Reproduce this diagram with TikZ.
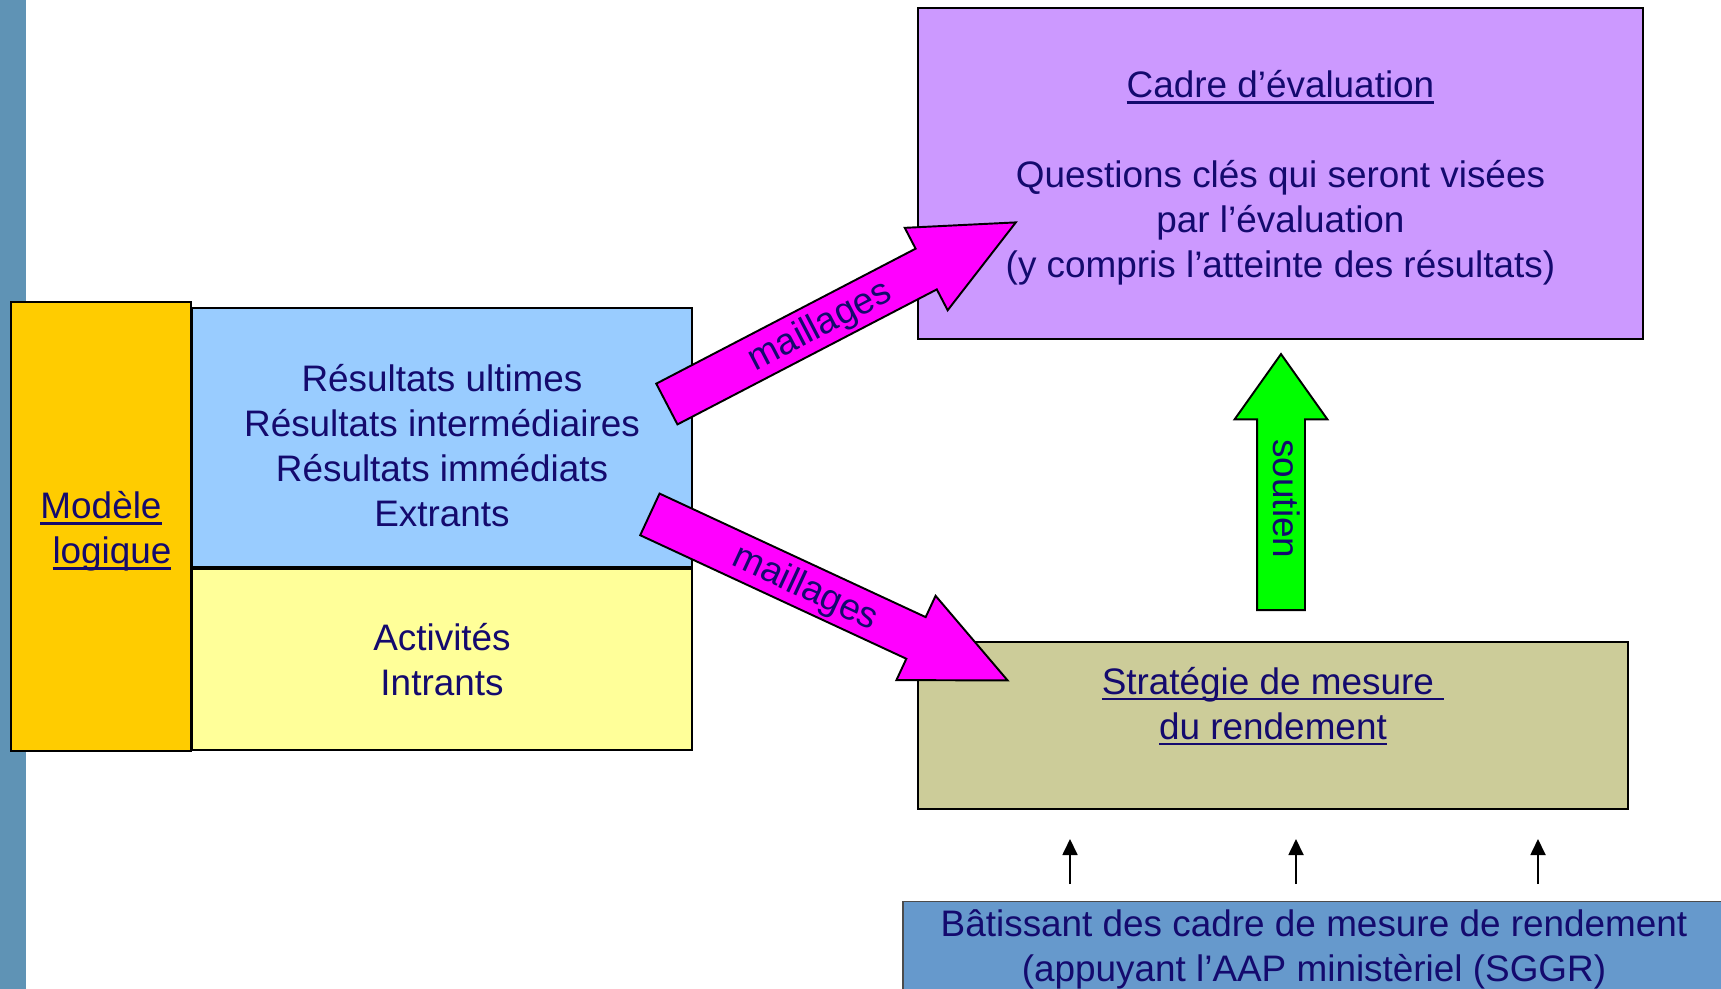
\documentclass[tikz,border=0pt]{standalone}
\usepackage{fontspec}
\setmainfont{Liberation Sans}
\usetikzlibrary{positioning,arrows.meta,shapes.arrows}
\definecolor{ink}{RGB}{20,10,110}
\definecolor{colstripe}{RGB}{95,147,181}
\definecolor{colorange}{RGB}{255,204,0}
\definecolor{colblue}{RGB}{153,204,255}
\definecolor{colyellow}{RGB}{255,255,153}
\definecolor{colpurple}{RGB}{204,153,255}
\definecolor{cololive}{RGB}{204,204,153}
\definecolor{colbat}{RGB}{102,153,204}
\definecolor{colmag}{RGB}{255,0,255}
\definecolor{colgreen}{RGB}{0,255,0}
\newcommand{\ulbox}[1]{\setbox0=\hbox{#1}\rlap{\rule[-0.17em]{\wd0}{0.075em}}\box0}

\begin{document}
\begin{tikzpicture}[x=0.02cm, y=-0.02cm,
    every node/.style={font=\fontsize{21}{25.6}\selectfont, text=ink},
    box/.style={draw=black, line width=1.1pt, inner sep=0pt, align=center},
    txt/.style={inner sep=0pt, align=center},
    bigarrow/.style={single arrow, draw=black, line width=1.1pt, inner sep=0pt, text height=0.68cm, text depth=0.2cm},
    upar/.style={-{Triangle[length=0.32cm,width=0.3cm]}, line width=1pt}]
    \useasboundingbox (0,0) rectangle (1721,989);
    \clip (0,0) rectangle (1721,989);
    \fill[colstripe] (0,0) rectangle (26,989);

    \node[box, fill=colorange, line width=1.6pt, minimum width=3.6cm, minimum height=8.98cm] (modele) at (101,526.5) {};
    \node[txt] (modeletxt) at ([yshift=-0.09cm]modele.center) {\ulbox{Modèle}\\\hspace*{0.44cm}\ulbox{logique}};
    \node[box, fill=colblue, minimum width=10cm, minimum height=5.18cm] (result) at (442,437.5) {};
    \node[txt] (resulttxt) at ([yshift=-0.16cm]result.center) {Résultats ultimes\\Résultats intermédiaires\\Résultats immédiats\\Extrants};
    \node[box, fill=colyellow, minimum width=10cm, minimum height=3.62cm, below=0pt of result] (activ) {Activités\\Intrants};
    \node[box, fill=colpurple, minimum width=14.5cm, minimum height=6.62cm] (cadre) at (1280.5,173.5) {};
    \node[txt] (cadretxt) at ([yshift=-0.09cm]cadre.center) {\ulbox{Cadre d’évaluation}\\[0.9cm]Questions clés qui seront visées\\par l’évaluation\\(y compris l’atteinte des résultats)};
    \node[box, fill=cololive, minimum width=14.2cm, minimum height=3.34cm] (strat) at (1273,725.5) {\ulbox{Stratégie de mesure\ }\\\ulbox{du rendement}\\\mbox{}};
    \node[box, fill=colbat, draw=black!70, minimum width=16.44cm, minimum height=1.9cm] (bat) at (1314,949) {Bâtissant des cadre de mesure de rendement\\(appuyant l’AAP ministèriel (SGGR)};

    \node[bigarrow, fill=colmag, rotate=27.5, anchor=tail, minimum height=7.87cm, single arrow head extend=0.47cm, single arrow tip angle=49.4] (maill1) at (666,404.5) {maillages};
    \node[bigarrow, fill=colmag, rotate=-24.9, anchor=tail, minimum height=7.89cm, single arrow head extend=0.47cm, single arrow tip angle=49.4] (maill2) at (649,514) {maillages};
    \node[bigarrow, fill=colgreen, rotate=-90, shape border rotate=180, anchor=tail, minimum height=5.12cm, single arrow head extend=0.45cm, single arrow tip angle=70.8, text height=0.62cm, text depth=0.3cm] (sout) at (1281,611) {soutien};

    \foreach \x in {1070,1296,1538} {
        \coordinate (lo) at (\x,884);
        \coordinate (hi) at (\x,839);
        \draw[upar] (lo) -- (hi);
    }
\end{tikzpicture}
\end{document}
